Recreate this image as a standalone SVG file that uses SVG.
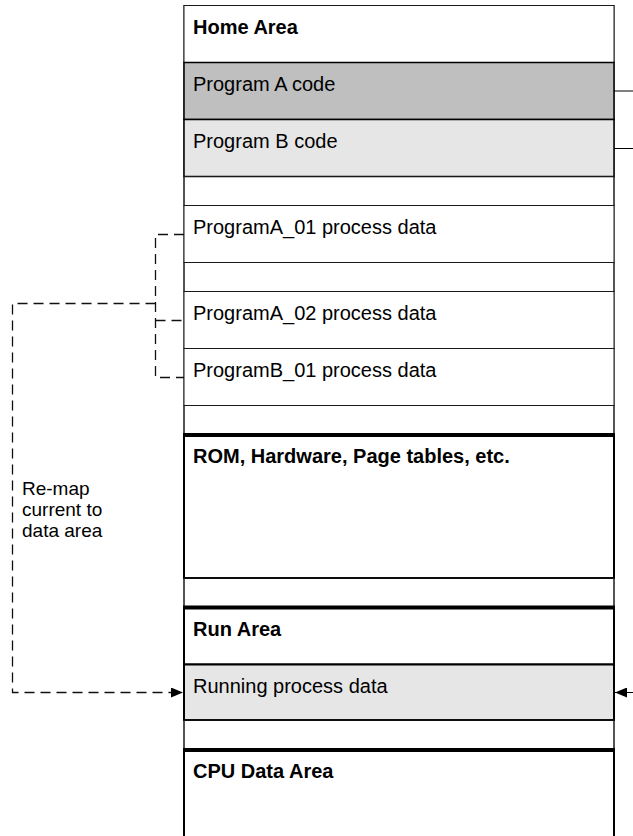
<svg xmlns="http://www.w3.org/2000/svg" width="633" height="836" viewBox="0 0 633 836">
  <style>
    .t { font-family: "Liberation Sans", Arial, sans-serif; font-size: 20px; fill: #000; }
    .b { font-weight: bold; }
    .lbl { font-family: "Liberation Sans", Arial, sans-serif; font-size: 19px; fill: #000; }
    .thin { stroke: #1a1a1a; stroke-width: 1; }
    .heavy { stroke: #000; stroke-width: 2; }
    .rule { stroke: #000; stroke-width: 4; }
    .dash { fill: none; stroke: #111; stroke-width: 1.3; stroke-dasharray: 10 6; }
    .link { fill: none; stroke: #000; stroke-width: 1; }
  </style>
  <defs>
    <marker id="arrow" viewBox="0 0 12 10" refX="12" refY="5" markerWidth="12" markerHeight="10" markerUnits="userSpaceOnUse" orient="auto">
      <path d="M0,0 L12,5 L0,10 Z" fill="#000"/>
    </marker>
  </defs>

  <rect width="633" height="836" fill="#fff"/>

  <!-- memory column outline -->
  <g id="column">
    <line class="thin" x1="184" y1="5" x2="184" y2="836"/>
    <line class="thin" x1="614" y1="5" x2="614" y2="836"/>
  </g>

  <g id="home-area">
    <rect class="thin" x="184" y="5.5" width="430" height="57" fill="#fff"/>
    <text class="t b" x="193" y="34">Home Area</text>
  </g>
  <g id="program-a-code">
    <rect x="184" y="62.5" width="430" height="57" fill="#bfbfbf" stroke="#000" stroke-width="1.5"/>
    <text class="t" x="193" y="91">Program A code</text>
  </g>
  <g id="program-b-code">
    <rect x="184" y="119.5" width="430" height="57" fill="#e6e6e6" stroke="#000" stroke-width="1.5"/>
    <text class="t" x="193" y="148">Program B code</text>
  </g>
  <g id="gap-1">
    <rect class="thin" x="184" y="176.5" width="430" height="29" fill="none"/>
  </g>
  <g id="programa-01-data">
    <rect class="thin" x="184" y="205.5" width="430" height="57" fill="#fff"/>
    <text class="t" x="193" y="234">ProgramA_01 process data</text>
  </g>
  <g id="gap-2">
    <rect class="thin" x="184" y="262.5" width="430" height="29" fill="none"/>
  </g>
  <g id="programa-02-data">
    <rect class="thin" x="184" y="291.5" width="430" height="57" fill="#fff"/>
    <text class="t" x="193" y="320">ProgramA_02 process data</text>
  </g>
  <g id="programb-01-data">
    <rect class="thin" x="184" y="348.5" width="430" height="57" fill="#fff"/>
    <text class="t" x="193" y="377">ProgramB_01 process data</text>
  </g>
  <g id="gap-3">
    <rect class="thin" x="184" y="405.5" width="430" height="29" fill="none"/>
  </g>
  <g id="rom-hardware">
    <rect class="heavy" x="184" y="435" width="430" height="143" fill="#fff"/>
    <line class="rule" x1="183" y1="435" x2="615" y2="435"/>
    <text class="t b" x="193" y="463">ROM, Hardware, Page tables, etc.</text>
  </g>
  <g id="gap-4">
    <rect class="thin" x="184" y="578" width="430" height="29" fill="none"/>
  </g>
  <g id="run-area">
    <rect class="heavy" x="184" y="607.5" width="430" height="57" fill="#fff"/>
    <line class="rule" x1="183" y1="607.5" x2="615" y2="607.5"/>
    <text class="t b" x="193" y="636">Run Area</text>
  </g>
  <g id="running-process-data">
    <rect class="heavy" x="184" y="664.5" width="430" height="55.5" fill="#e6e6e6"/>
    <text class="t" x="193" y="693">Running process data</text>
  </g>
  <g id="gap-5">
    <rect class="thin" x="184" y="720" width="430" height="29.5" fill="none"/>
  </g>
  <g id="cpu-data-area">
    <rect class="heavy" x="184" y="750" width="430" height="90" fill="#fff"/>
    <line class="rule" x1="183" y1="750" x2="615" y2="750"/>
    <text class="t b" x="193" y="778">CPU Data Area</text>
  </g>

  <g id="remap-label">
    <text class="lbl" x="22" y="495">Re-map</text>
    <text class="lbl" x="22" y="516">current to</text>
    <text class="lbl" x="22" y="537">data area</text>
  </g>

  <g id="connectors">
    <!-- process data areas gathered on one bracket -->
    <path class="dash" d="M184,234.5 H155.5 V377.5 H184"/>
    <path class="dash" d="M155.5,320.5 H184"/>
    <!-- re-map path into the running process data -->
    <path class="dash" d="M155.5,303.5 H12.5 V692.5 H183" marker-end="url(#arrow)"/>
    <!-- code areas leaving to the right -->
    <line class="link" x1="614" y1="91" x2="633" y2="91" stroke="#777"/>
    <line class="link" x1="614" y1="148.5" x2="633" y2="148.5"/>
    <!-- incoming mapping from the right -->
    <line class="link" x1="633" y1="692.5" x2="615" y2="692.5" marker-end="url(#arrow)"/>
  </g>
</svg>
